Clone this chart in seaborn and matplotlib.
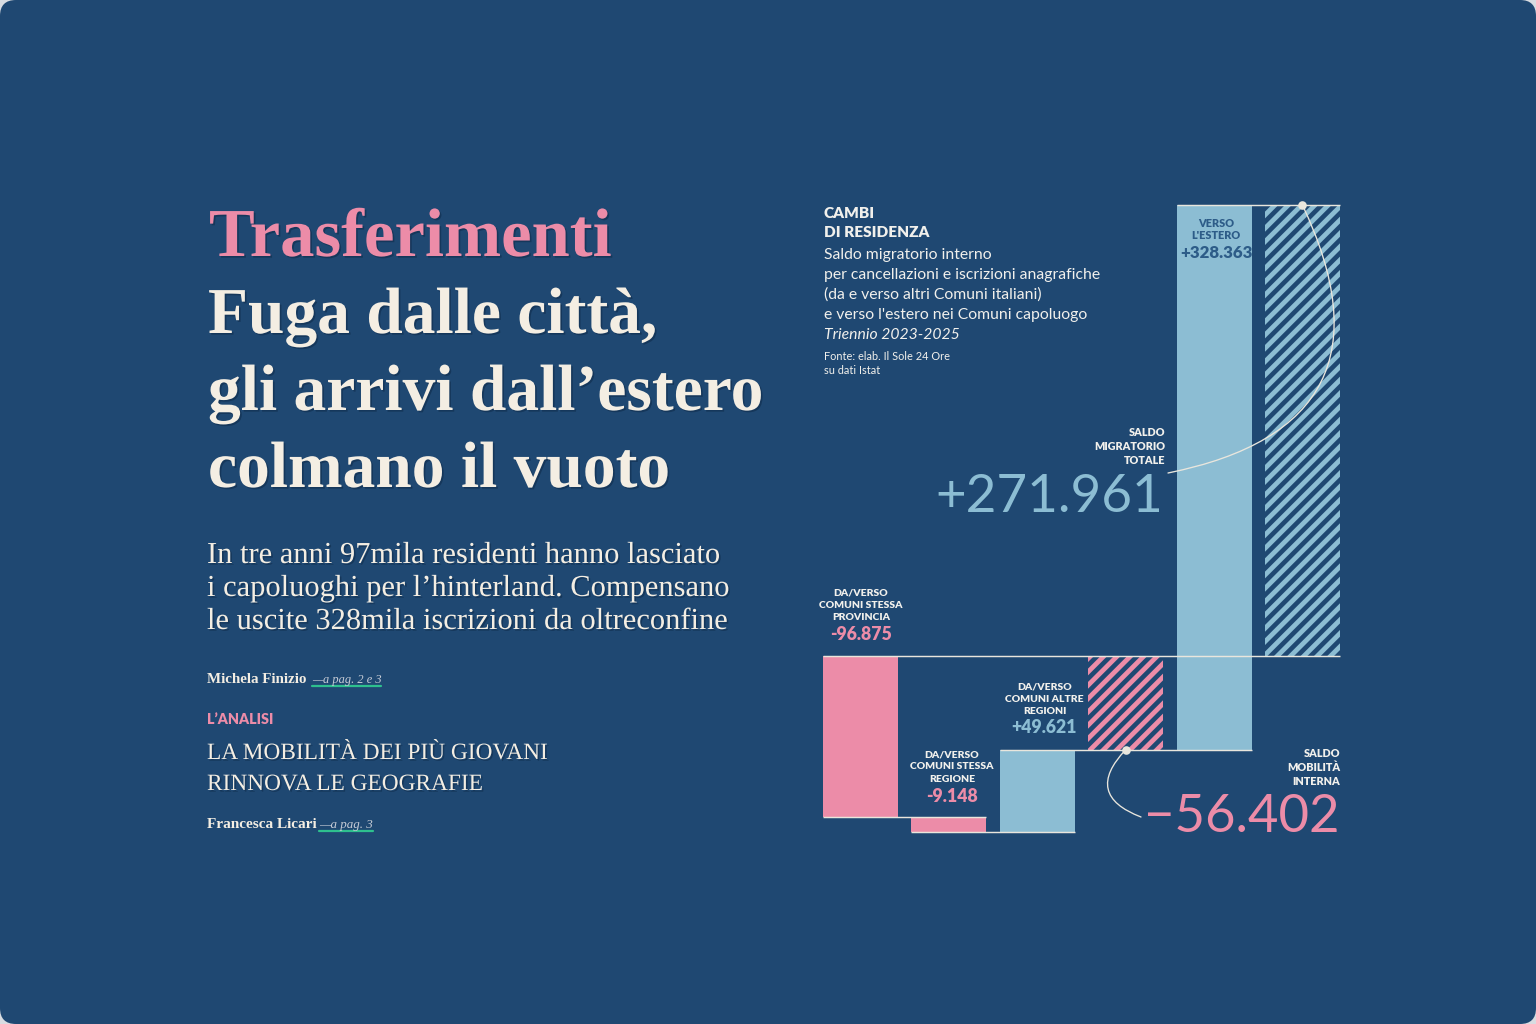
"""
plot.py
───────
Cambi di residenza: waterfall of the internal / foreign migration balance
of the Italian provincial capitals, laid out as a newspaper front panel.
"""

import matplotlib
matplotlib.use("Agg")
import matplotlib.pyplot as plt
import matplotlib.patheffects as pe
from matplotlib.patches import FancyBboxPatch
import seaborn as sns

# ── data ──────────────────────────────────────────────────────────────────────
categories = ["Stessa provincia", "Stessa regione", "Altre regioni",
              "Saldo mobilità interna", "Verso l'estero", "Saldo totale"]
values     = [-96875, -9148, 49621, -56402, 328363, 271961]
is_total   = [False, False, False, True, False, True]

kicker    = "Trasferimenti"
headline  = ["Fuga dalle città,", "gli arrivi dall’estero", "colmano il vuoto"]
standfirst = ["In tre anni 97mila residenti hanno lasciato",
              "i capoluoghi per l’hinterland. Compensano",
              "le uscite 328mila iscrizioni da oltreconfine"]
chart_title = ["CAMBI", "DI RESIDENZA"]
chart_desc  = ["Saldo migratorio interno",
               "per cancellazioni e iscrizioni anagrafiche",
               "(da e verso altri Comuni italiani)",
               "e verso l'estero nei Comuni capoluogo"]
chart_period = "Triennio 2023-2025"
chart_source = ["Fonte: elab. Il Sole 24 Ore", "su dati Istat"]

# ── style ─────────────────────────────────────────────────────────────────────
W, H, DPI = 1536, 1024, 80
BG     = "#1F4872"
PINK   = "#EC8CA8"
BLUE   = "#8CBDD3"
CREAM  = "#F4EEE3"
WHITE  = "#F1F0EC"
LINE   = "#E9E6DD"
DARK   = "#2D5C88"
GREEN  = "#2EC08E"
GREY   = "#C6CCD6"
SERIF  = ["Liberation Serif", "DejaVu Serif"]
SANS   = ["Lato", "DejaVu Sans"]
SHADOW = [pe.withSimplePatchShadow(offset=(1.5, -1.5), shadow_rgbFace="#0B2440",
                                   alpha=0.45)]

sns.set_theme(style="white")
plt.rcParams["font.family"] = SANS
plt.rcParams["hatch.linewidth"] = 4.3

fig = plt.figure(figsize=(W / DPI, H / DPI), dpi=DPI)
fig.patch.set_facecolor("#D8DCE1")
fig.add_artist(FancyBboxPatch((0, 0), W / DPI, H / DPI,
                              boxstyle="round,pad=0,rounding_size=0.2",
                              transform=fig.dpi_scale_trans,
                              fc=BG, ec="none", zorder=-10))
renderer = fig.canvas.get_renderer()


def put(x, y, s, size, **kw):
    """Text at pixel (x, y), y measured from the top, baseline aligned."""
    kw.setdefault("va", "baseline")
    return fig.text(x / W, 1 - y / H, s, fontsize=size, **kw)


def fit(t, width):
    """Rescale a text so that it is `width` pixels wide; return the size."""
    w = t.get_window_extent(renderer).width
    t.set_fontsize(t.get_fontsize() * width / w)
    return t.get_fontsize()


def stack(x, y, lines, step, size, **kw):
    return [put(x, y + i * step, s, size, **kw) for i, s in enumerate(lines)]


def fmt(v, minus="-"):
    sign = "+" if v > 0 else minus
    return sign + f"{abs(v):,}".replace(",", ".")


# ─────────────────────────────────────────────────────────────────────────────
# Left column: headline block
# ─────────────────────────────────────────────────────────────────────────────
fit(put(209, 256, kicker, 50, color=PINK, family=SERIF, weight="bold",
        path_effects=SHADOW), 402)

size = fit(put(208, 410, headline[1], 50, color=CREAM, family=SERIF,
               weight="bold", path_effects=SHADOW), 555)
put(208, 333, headline[0], size, color=CREAM, family=SERIF, weight="bold",
    path_effects=SHADOW)
put(208, 487, headline[2], size, color=CREAM, family=SERIF, weight="bold",
    path_effects=SHADOW)

size = fit(put(207, 596, standfirst[1], 20, color=CREAM, family=SERIF,
               path_effects=SHADOW), 523)
put(207, 563, standfirst[0], size, color=CREAM, family=SERIF,
    path_effects=SHADOW)
put(207, 629, standfirst[2], size, color=CREAM, family=SERIF,
    path_effects=SHADOW)

fit(put(207, 683, "Michela Finizio", 11, color=CREAM, family=SERIF,
        weight="bold"), 101)
fit(put(312, 683, "—a pag. 2 e 3", 9, color=GREY, family=SERIF,
        style="italic"), 69)
fig.add_artist(plt.Line2D([312 / W, 381 / W], [1 - 686 / H] * 2,
                          color=GREEN, lw=2))

fit(put(207, 724, "L’ANALISI", 9, color=PINK, weight="heavy"), 67)
size = fit(put(207, 759, "LA MOBILITÀ DEI PIÙ GIOVANI", 18, color=CREAM,
               family=SERIF, path_effects=SHADOW), 341)
put(207, 790, "RINNOVA LE GEOGRAFIE", size, color=CREAM, family=SERIF,
    path_effects=SHADOW)

fit(put(207, 828, "Francesca Licari", 11, color=CREAM, family=SERIF,
        weight="bold"), 110)
fit(put(319, 828, "—a pag. 3", 9, color=GREY, family=SERIF,
        style="italic"), 54)
fig.add_artist(plt.Line2D([319 / W, 373 / W], [1 - 831 / H] * 2,
                          color=GREEN, lw=2))

# ─────────────────────────────────────────────────────────────────────────────
# Right column: chart header
# ─────────────────────────────────────────────────────────────────────────────
size = fit(put(824, 237, chart_title[1], 10, color=WHITE, weight="heavy"), 105)
put(824, 218, chart_title[0], size, color=WHITE, weight="heavy")

size = fit(put(824, 279, chart_desc[1], 11, color=WHITE), 274)
put(824, 259, chart_desc[0], size, color=WHITE)
put(824, 299, chart_desc[2], size, color=WHITE)
put(824, 319, chart_desc[3], size, color=WHITE)
put(824, 339, chart_period, size, color=WHITE, style="italic")

size = fit(put(824, 360, chart_source[0], 8, color=WHITE), 126)
put(824, 374.5, chart_source[1], size, color=WHITE)

# ─────────────────────────────────────────────────────────────────────────────
# Waterfall
# ─────────────────────────────────────────────────────────────────────────────
L, R, T, B = 823, 1340, 205, 832          # chart box in pixels
BAR_W = 0.85

bottoms, heights, running = [], [], 0.0
for v, tot in zip(values, is_total):
    v = v / 1000
    if tot:
        bottoms.append(0.0)
        heights.append(v)
    else:
        bottoms.append(running)
        heights.append(v)
        running += v
tops = [b + h for b, h in zip(bottoms, heights)]

ax = fig.add_axes([L / W, 1 - B / H, (R - L) / W, (B - T) / H])
sns.barplot(x=categories, y=heights, bottom=bottoms, width=BAR_W,
            color=PINK, errorbar=None, linewidth=0, zorder=2, ax=ax)

for patch, v, tot in zip(ax.patches, values, is_total):
    col = PINK if v < 0 else BLUE
    if tot:
        patch.set_facecolor(BG)
        patch.set_edgecolor(col)
        patch.set_hatch("//")
        patch.set_linewidth(0)
    else:
        patch.set_facecolor(col)
        patch.set_edgecolor("none")

n = len(values)
ax.set_xlim(-BAR_W / 2, n - 1 + BAR_W / 2)
ax.set_ylim(min(bottoms + tops), max(bottoms + tops))
ax.axis("off")

# connector lines: each step's end level runs to the next step's bar
steps = [i for i, t in enumerate(is_total) if not t]
for k, i in enumerate(steps):
    j = steps[k + 1] if k + 1 < len(steps) else n - 1
    ax.hlines(tops[i], i - BAR_W / 2, j + BAR_W / 2, colors=LINE, lw=1.3,
              zorder=4, clip_on=False)
ax.hlines(0, -BAR_W / 2, n - 1 + BAR_W / 2, colors=LINE, lw=1.3, zorder=4,
          clip_on=False)

# totals: dot + curved leader to the big number
tot_idx = [i for i, t in enumerate(is_total) if t]
ax.scatter(tot_idx, [tops[i] for i in tot_idx], s=60, color=LINE,
           zorder=6, clip_on=False, linewidths=0)
ax.annotate("", xy=(1141, H - 817), xycoords="figure pixels",
            xytext=(tot_idx[0], tops[tot_idx[0]]), textcoords="data",
            arrowprops=dict(arrowstyle="-", color=LINE, lw=1.2,
                            shrinkA=0, shrinkB=0,
                            connectionstyle="arc3,rad=0.75"))
ax.annotate("", xy=(1168, H - 473), xycoords="figure pixels",
            xytext=(tot_idx[1], tops[tot_idx[1]]), textcoords="data",
            arrowprops=dict(arrowstyle="-", color=LINE, lw=1.2,
                            shrinkA=0, shrinkB=0,
                            connectionstyle="arc3,rad=-0.64"))

# ── bar labels ───────────────────────────────────────────────────────────────
lab = fit(put(861, 608, "COMUNI STESSA", 8, color=WHITE, weight="heavy",
              ha="center"), 83)
put(861, 595, "DA/VERSO", lab, color=WHITE, weight="heavy", ha="center")
put(861, 620.5, "PROVINCIA", lab, color=WHITE, weight="heavy", ha="center")
val = fit(put(861, 640, fmt(values[0]), 11, color=PINK, weight="heavy",
              ha="center"), 62)

stack(952, 757, ["DA/VERSO", "COMUNI STESSA", "REGIONE"], 12.3, lab,
      color=WHITE, weight="heavy", ha="center")
put(952, 802, fmt(values[1]), val, color=PINK, weight="heavy", ha="center")

stack(1044.5, 689, ["DA/VERSO", "COMUNI ALTRE", "REGIONI"], 12.5, lab,
      color=WHITE, weight="heavy", ha="center")
put(1044.5, 733, fmt(values[2]), val, color=BLUE, weight="heavy", ha="center")

stack(1216, 227, ["VERSO", "L'ESTERO"], 12.3, lab * 1.05, color=DARK,
      weight="heavy", ha="center")
fit(put(1216, 258, fmt(values[4]), 11, color=DARK, weight="heavy",
        ha="center"), 73)

stack(1165.5, 436, ["SALDO", "MIGRATORIO", "TOTALE"], 14, lab * 1.05,
      color=WHITE, weight="heavy", ha="right")
fit(put(1163, 512, fmt(values[5]), 36, color=BLUE, weight="normal",
        ha="right"), 228)

stack(1340, 757, ["SALDO", "MOBILITÀ", "INTERNA"], 14, lab * 1.05,
      color=WHITE, weight="heavy", ha="right")
fit(put(1339, 832, fmt(values[3], minus="−"), 36, color=PINK,
        weight="normal", ha="right"), 196)

fig.savefig("out.png", dpi=DPI, facecolor=fig.get_facecolor())
plt.close(fig)
